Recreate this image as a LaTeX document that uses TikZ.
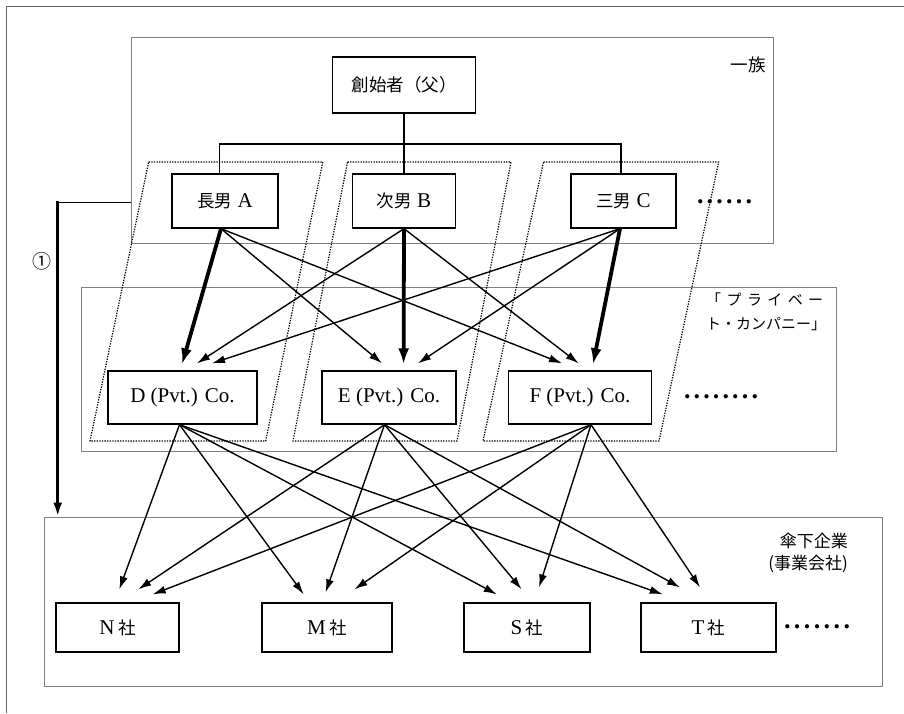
\documentclass[tikz,border=0pt]{standalone}
\usepackage{fontspec}
\setmainfont{Liberation Serif}
\newfontfamily\jp{Noto Sans CJK JP}
\usetikzlibrary{arrows.meta,calc}
\begin{document}
\begin{tikzpicture}[x=1pt,y=-1pt,
  box/.style={draw=black, line width=1.3pt, fill=white, inner sep=0pt, font=\fontsize{21}{23}\selectfont},
  jpbox/.style={box, font=\jp\fontsize{17.5}{20}\selectfont},
  grp/.style={draw=black!50, line width=0.9pt, inner sep=0pt},
  para/.style={draw=black, line width=1.2pt, dash pattern=on 1.3pt off 1.3pt},
  tree/.style={draw=black, line width=1.3pt},
  thinarr/.style={draw=black, line width=1.4pt, -{Latex[length=13pt,width=8pt]}},
  heavyarr/.style={draw=black, line width=3.8pt, -{Latex[length=16pt,width=11pt]}},
  dotrow/.style={inner sep=0pt, font=\bfseries\fontsize{26}{26}\selectfont},
  lbl/.style={inner sep=0pt}
]
\useasboundingbox (0,0) rectangle (904,713);
% outer frame
\draw[black!60, line width=1pt] (6,713) -- (6,6) -- (904,6);

% group boxes
\node[grp, minimum width=642.5pt, minimum height=206pt] (fam) at (452.25,140) {};
\node[grp, minimum width=755pt, minimum height=164pt] (pvt) at (458.5,369) {};
\node[grp, minimum width=837.5pt, minimum height=169pt] (umb) at (463.25,601.5) {};

% dotted parallelograms
\draw[para] (148.7,162) -- (322.8,162) -- (265.7,441) -- (90,441) -- cycle;
\draw[para] (347.5,162) -- (511,162) -- (457,441) -- (293,441) -- cycle;
\draw[para] (543.5,162) -- (718.7,162) -- (659,441) -- (483,441) -- cycle;

% nodes
\node[jpbox, minimum width=143pt, minimum height=56pt] (founder) at (404,85) {創始者（父）};
\node[box, minimum width=106pt, minimum height=54pt] (A) at (225,201) {{\jp\fontsize{17.5}{20}\selectfont 長男} A};
\node[box, minimum width=103pt, minimum height=54pt] (B) at (404,201) {{\jp\fontsize{17.5}{20}\selectfont 次男} B};
\node[box, minimum width=105pt, minimum height=54pt] (C) at (623.5,201) {{\jp\fontsize{17.5}{20}\selectfont 三男} C};

\node[box, minimum width=149pt, minimum height=53pt] (D) at (182.5,397.5) {D (Pvt.) Co.};
\node[box, minimum width=134pt, minimum height=53pt] (E) at (389,397.5) {E (Pvt.) Co.};
\node[box, minimum width=143pt, minimum height=53pt] (F) at (580,397.5) {F (Pvt.) Co.};

\node[box, minimum width=123pt, minimum height=49pt] (N) at (117.5,627.5) {N\,{\jp\fontsize{17.5}{20}\selectfont 社}};
\node[box, minimum width=130pt, minimum height=49pt] (M) at (327,627.5) {M\,{\jp\fontsize{17.5}{20}\selectfont 社}};
\node[box, minimum width=126pt, minimum height=49pt] (S) at (527,627.5) {S\,{\jp\fontsize{17.5}{20}\selectfont 社}};
\node[box, minimum width=135pt, minimum height=49pt] (T) at (708.5,627.5) {T\,{\jp\fontsize{17.5}{20}\selectfont 社}};

% labels
\node[lbl, anchor=east, font=\jp\fontsize{17.5}{20}\selectfont] (lfam) at (766,65) {一族};
\node[lbl, anchor=north west, align=left, font=\jp\fontsize{15}{24}\selectfont] (lpvt) at (706,293)
  {\makebox[117pt]{「\hfill プ\hfill ラ\hfill イ\hfill ベ\hfill ー}\\ト・カンパニー」};
\node[lbl, anchor=north east, align=right, font=\jp\fontsize{17}{22}\selectfont] (lumb) at (848,533) {傘下企業\\(事業会社)};
\node[lbl, font=\jp\fontsize{19}{20}\selectfont] (circ) at (42,261) {①};

% dot rows
\node[dotrow] (dots1) at (724.5,202) {\makebox[55pt]{.\hfill.\hfill.\hfill.\hfill.\hfill.}};
\node[dotrow] (dots2) at (721,397) {\makebox[74pt]{.\hfill.\hfill.\hfill.\hfill.\hfill.\hfill.\hfill.}};
\node[dotrow] (dots3) at (817,627) {\makebox[66pt]{.\hfill.\hfill.\hfill.\hfill.\hfill.\hfill.}};

% family tree
\coordinate (bar) at (404,144);
\draw[tree] (founder.south) -- (B.north);
\draw[tree] ([xshift=-5.4pt]A.north) |- (bar) -| ([xshift=-2.5pt]C.north);

% left arrow (1)
\coordinate (turn) at (57.7,202.7);
\draw[tree] ([yshift=-62.7pt]fam.west) -- (turn);
\draw[line width=2.8pt, -{Latex[length=14pt,width=9pt]}] ([yshift=1.3pt]turn) -- (turn |- umb.north);

% sons -> private companies
\draw[heavyarr] ([xshift=-4pt]A.south) -- ([xshift=-0.5pt,yshift=6pt]D.north);
\draw[thinarr] ([xshift=-4pt]A.south) -- ([xshift=-7pt,yshift=7pt]E.north);
\draw[thinarr] ([xshift=-4pt]A.south) -- ([xshift=-18pt,yshift=7pt]F.north);
\draw[thinarr] (B.south) -- ([xshift=14.5pt,yshift=7pt]D.north);
\draw[heavyarr] (B.south) -- ([xshift=14.6pt,yshift=6pt]E.north);
\draw[thinarr] (B.south) -- ([xshift=-1.4pt,yshift=7pt]F.north);
\draw[thinarr] ([xshift=-3.5pt]C.south) -- ([xshift=29.5pt,yshift=7pt]D.north);
\draw[thinarr] ([xshift=-3.5pt]C.south) -- ([xshift=29pt,yshift=7pt]E.north);
\draw[heavyarr] ([xshift=-3.5pt]C.south) -- ([xshift=13pt,yshift=6pt]F.north);

% private companies -> subsidiaries
\draw[thinarr] ([xshift=-3pt]D.south) -- ([xshift=1.8pt,yshift=13pt]N.north);
\draw[thinarr] ([xshift=-3pt]D.south) -- ([xshift=-23.3pt,yshift=8pt]M.north);
\draw[thinarr] ([xshift=-3pt]D.south) -- ([xshift=-30.2pt,yshift=8pt]S.north);
\draw[thinarr] ([xshift=-3pt]D.south) -- ([xshift=-45.7pt,yshift=8pt]T.north);
\draw[thinarr] ([xshift=-4.5pt]E.south) -- ([xshift=20.8pt,yshift=13pt]N.north);
\draw[thinarr] ([xshift=-4.5pt]E.south) -- ([xshift=-1.4pt,yshift=10pt]M.north);
\draw[thinarr] ([xshift=-4.5pt]E.south) -- ([xshift=-5.4pt,yshift=13pt]S.north);
\draw[thinarr] ([xshift=-4.5pt]E.south) -- ([xshift=-28.5pt,yshift=15pt]T.north);
\draw[thinarr] ([xshift=11pt]F.south) -- ([xshift=35.2pt,yshift=8pt]N.north);
\draw[thinarr] ([xshift=11pt]F.south) -- ([xshift=27.5pt,yshift=13pt]M.north);
\draw[thinarr] ([xshift=11pt]F.south) -- ([xshift=12pt,yshift=15pt]S.north);
\draw[thinarr] ([xshift=11pt]F.south) -- ([xshift=-8.5pt,yshift=15pt]T.north);
\end{tikzpicture}
\end{document}
